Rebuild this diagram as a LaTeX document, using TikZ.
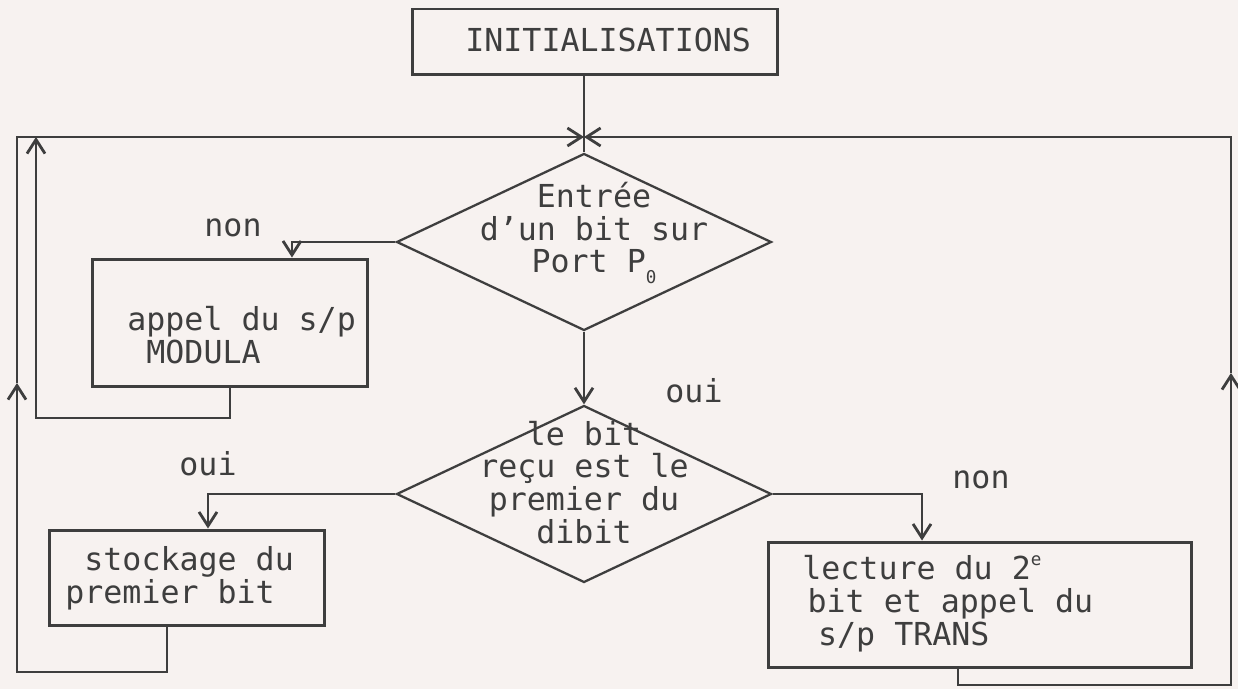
\documentclass[tikz,border=0pt]{standalone}
\usepackage{fontspec}
\setmonofont{DejaVu Sans Mono}
\usepackage{tikz}
\usetikzlibrary{arrows.meta, shapes.geometric}

\definecolor{ink}{RGB}{62,62,62}
\definecolor{paper}{RGB}{247,242,240}

\begin{document}
\begin{tikzpicture}[x=0.02cm, y=-0.02cm,
    >={Straight Barb[length=2.8mm, width=3.6mm]},
    box/.style={draw=ink, rectangle, line width=1.7pt, inner sep=0pt},
    decision/.style={draw=ink, diamond, line width=1.3pt, inner sep=0pt,
                     minimum width=7.5cm, minimum height=3.54cm},
    txt/.style={text=ink, inner sep=0pt,
                font=\ttfamily\fontsize{18}{18.5}\selectfont},
    flow/.style={draw=ink, line width=1.6pt}
  ]
  \useasboundingbox[fill=paper] (0,0) rectangle (1238,689);

  % blocks
  \node[box, minimum width=7.32cm, minimum height=1.32cm] (init) at (595,42) {};
  \node[decision] (dec1) at (584,242) {};
  \node[decision] (dec2) at (584,494) {};
  \node[box, minimum width=5.5cm, minimum height=2.56cm] (modula) at (230,323) {};
  \node[box, minimum width=5.5cm, minimum height=1.92cm] (stock) at (187,578) {};
  \node[box, minimum width=8.48cm, minimum height=2.52cm] (trans) at (980,605) {};

  % texts (base = last line)
  \node[txt, anchor=base west] (tinit) at (465,52) {INITIALISATIONS};
  \node[txt, anchor=base, align=center] (tdec1) at (594,273)
    {Entrée\\d’un bit sur\\Port P\raisebox{-6pt}{\fontsize{10}{10}\selectfont 0}};
  \node[txt, anchor=base, align=center] (tdec2) at (584,543)
    {le bit\\reçu est le\\premier du\\dibit};
  \node[txt, anchor=base west, align=left] (tmod) at (127,363)
    {appel du s/p\\~MODULA};
  \node[txt, anchor=base west, align=left] (tstock) at (65,603)
    {~stockage du\\premier bit};
  \node[txt, anchor=base west, align=left] (ttrans) at (802,645)
    {lecture du 2\raisebox{8pt}{\fontsize{10}{10}\selectfont e}\\
     \hspace*{3pt}bit et appel du\\\hspace*{9pt}s/p TRANS};

  % oui / non
  \node[txt, anchor=base] (non1) at (233,237) {non};
  \node[txt, anchor=base] (oui1) at (694,402) {oui};
  \node[txt, anchor=base] (oui2) at (208,475) {oui};
  \node[txt, anchor=base] (non2) at (981,488) {non};

  % loop points
  \coordinate (jn) at (dec1.north |- 0,137);
  \coordinate (sA) at (167,672);
  \coordinate (sB) at (17,672);
  \coordinate (sC) at (17,383);
  \coordinate (sD) at (17,137);
  \coordinate (mA) at (230,418);
  \coordinate (mB) at (36,418);
  \coordinate (mC) at (36,137);
  \coordinate (tA) at (958,685);
  \coordinate (tB) at (1231,685);
  \coordinate (tC) at (1231,373);
  \coordinate (tD) at (1231,137);

  % main flow
  \draw[flow] (init.south -| dec1.north) -- (dec1.north);
  \draw[flow, ->] (dec1.south) -- (dec2.north);
  \draw[flow, ->] (dec1.west) -| ([xshift=1.24cm]modula.north);
  \draw[flow, ->] (dec2.west) -| ([xshift=0.42cm]stock.north);
  \draw[flow, ->] (dec2.east) -| ([xshift=-1.16cm]trans.north);

  % loops back
  \draw[flow, ->] (stock.south -| sA) -- (sA) -- (sB) -- (sC);
  \draw[flow, ->] (sC) -- (sD) -- (jn);
  \draw[flow, ->] (modula.south) -- (mA) -- (mB) -- (mC);
  \draw[flow, ->] (trans.south -| tA) -- (tA) -- (tB) -- (tC);
  \draw[flow, ->] (tC) -- (tD) -- (jn);
\end{tikzpicture}
\end{document}
